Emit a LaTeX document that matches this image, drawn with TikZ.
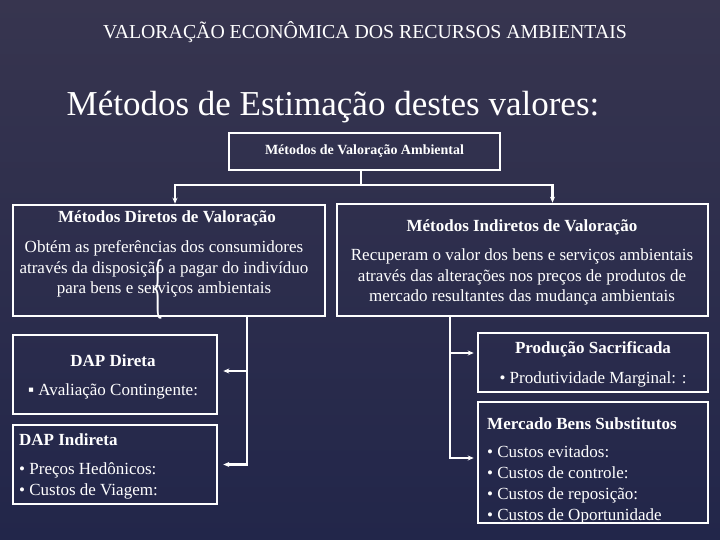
\documentclass[tikz,border=0pt]{standalone}
\usepackage{fontspec}
\setmainfont{Liberation Serif}
\usepackage{tikz}
\usetikzlibrary{arrows.meta,calc,positioning}
\definecolor{slideTop}{HTML}{37354F}
\definecolor{slideBottom}{HTML}{22264A}

\begin{document}
\begin{tikzpicture}[x=1pt,y=-1pt,>={Stealth[length=6pt,width=5pt]},
    frame/.style={draw=white,line width=2.6pt,inner sep=0pt},
    link/.style={draw=white,line width=2.4pt},
    headtext/.style={white,font=\bfseries\fontsize{17}{20}\selectfont},
    bodytext/.style={white,font=\fontsize{17}{20.8}\selectfont,align=center,inner sep=0pt}]
  % background
  \shade[top color=slideTop,bottom color=slideBottom] (0,0) rectangle (720,540);
  \useasboundingbox (0,0) rectangle (720,540);
  % headings
  \node[white,font=\fontsize{19.8}{22}\selectfont] (slidetitle) at (365,32)
    {VALORAÇÃO ECONÔMICA DOS RECURSOS AMBIENTAIS};
  \node[white,font=\fontsize{35}{38}\selectfont] (subtitle) at (333,107)
    {Métodos de Estimação destes valores:};
  % boxes
  \node[frame,minimum width=271,minimum height=37,white,
    font=\bfseries\fontsize{14}{16}\selectfont] (vam) at (364.5,151.5)
    {Métodos de Valoração Ambiental};
  \node[frame,minimum width=312,minimum height=111] (dir) at (169,260.5) {};
  \node[frame,minimum width=371,minimum height=112] (ind) at (522.5,260) {};
  \node[frame,minimum width=204,minimum height=79] (dapd) at (115,374.5) {};
  \node[frame,minimum width=204,minimum height=79] (dapi) at (115,464.5) {};
  \node[frame,minimum width=230,minimum height=59] (prod) at (593,362.5) {};
  \node[frame,minimum width=230,minimum height=121] (merc) at (593,462.5) {};
  % box texts
  \node[headtext] (dirhead) at (167,218) {Métodos Diretos de Valoração};
  \node[bodytext] (dirbody) at (164,269)
    {Obtém as preferências dos consumidores\\
     através da disposição a pagar do indivíduo\\
     para bens e serviços ambientais};
  \node[headtext] (indhead) at (522,227) {Métodos Indiretos de Valoração};
  \node[bodytext] (indbody) at (522,277)
    {Recuperam o valor dos bens e serviços ambientais\\
     através das alterações nos preços de produtos de\\
     mercado resultantes das mudança ambientais};
  \node[white,font=\fontsize{30}{30}\selectfont,yscale=2.4,xscale=0.8] (brace) at (158,289) {\{};
  \node[headtext] (dapdhead) at (113,361) {DAP Direta};
  \node[bodytext] (dapdbody) at (113,391) {▪ Avaliação Contingente:};
  \node[headtext,anchor=west,inner sep=0pt] (dapihead) at (19,440) {DAP Indireta};
  \node[bodytext,anchor=west,align=left] (dapibody) at (19,481)
    {• Preços Hedônicos:\\ • Custos de Viagem:};
  \node[headtext] (prodhead) at (593,349) {Produção Sacrificada};
  \node[bodytext] (prodbody) at (593,379) {• Produtividade Marginal: :};
  \node[headtext,anchor=west,inner sep=0pt] (merchead) at (487,424) {Mercado Bens Substitutos};
  \node[bodytext,anchor=west,align=left] (mercbody) at (487,485)
    {• Custos evitados:\\ • Custos de controle:\\ • Custos de reposição:\\ • Custos de Oportunidade};
  % connectors
  \coordinate (split) at (361,185);
  \draw[link] (vam.south -| split) -- (split);
  \draw[link,->] (split) -| ([xshift=6]dir.north);
  \draw[link,->] (split) -| ([xshift=30]ind.north);
  \coordinate (leftbus) at ([xshift=78]dir.south);
  \draw[link,->] (leftbus) |- ([xshift=5]dapi.east);
  \draw[link,->] ([yshift=3.5]dapd.east -| leftbus) -- ([xshift=5,yshift=3.5]dapd.east);
  \coordinate (rightbus) at ([xshift=-72.5]ind.south);
  \draw[link,->] (rightbus) |- ([xshift=-3,yshift=4.5]merc.west);
  \draw[link,->] ([yshift=9.5]prod.west -| rightbus) -- ([xshift=-3,yshift=9.5]prod.west);
\end{tikzpicture}
\end{document}
